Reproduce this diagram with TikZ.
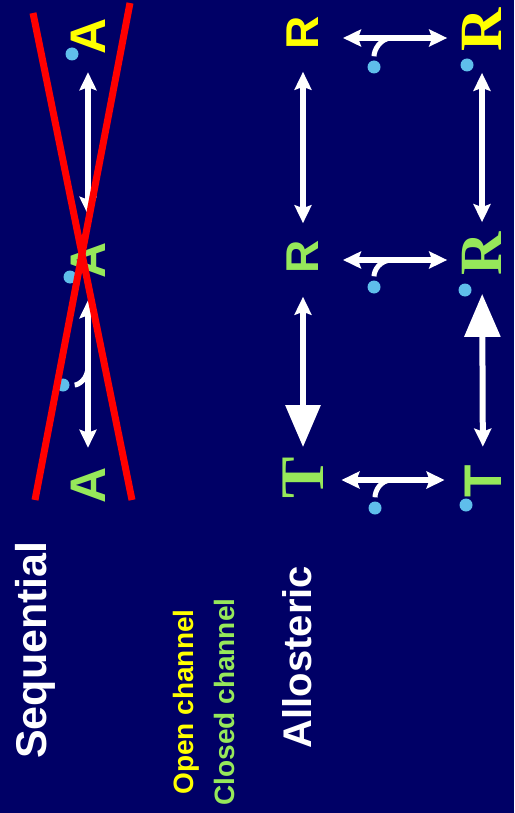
\documentclass[tikz,border=0pt]{standalone}
\usepackage{fontspec}
\setmainfont{Liberation Serif}
\setsansfont{Liberation Sans}
\usetikzlibrary{arrows.meta}

\definecolor{slide}{RGB}{0,0,102}
\definecolor{openc}{RGB}{255,255,0}
\definecolor{closedc}{RGB}{150,232,90}
\definecolor{ligand}{RGB}{95,190,235}
\newcommand\fs[1]{\fontsize{#1}{#1}\selectfont}

\begin{document}
\begin{tikzpicture}[x=1pt,y=-1pt,>={Stealth[length=18pt,width=17pt,inset=3pt]}]
        \tikzstyle{every node}=[inner sep=0pt]
        \tikzstyle{letter}=[rotate=90, font=\bfseries]
        \tikzstyle{label}=[rotate=90, font=\sffamily\bfseries]
        \tikzstyle{lig}=[circle, fill=ligand, minimum size=13pt]
        \tikzstyle{rxn}=[white, line width=6pt, <->]
        \tikzstyle{bigend}=[arrows={Stealth[length=18pt,width=17pt,inset=3pt]-Triangle[length=42pt,width=34pt]}]
        \tikzstyle{bigstart}=[arrows={Triangle[length=43pt,width=35pt]-Stealth[length=18pt,width=17pt,inset=3pt]}]
        \tikzstyle{bind}=[white, line width=5pt]
        \tikzstyle{veto}=[red, line width=7pt]
        \fill[slide] (0,0) rectangle (514,813);
        \useasboundingbox (0,0) rectangle (514,813);

        % sequential scheme
        \node[letter, text=closedc] (sa) at (88,485) {\sffamily\fs{50}A};
        \node[letter, text=closedc] (sb) at (88,260) {\sffamily\fs{50}A};
        \node[letter, text=openc] (sc) at (88,36) {\sffamily\fs{50}A};
        \node[lig] (ls0) at (63,385) {};
        \node[lig] (ls1) at (70,277) {};
        \node[lig] (ls2) at (72,54) {};
        \draw[rxn, shorten <=19pt, shorten >=22pt] (sa) -- (sb);
        \draw[rxn, shorten <=27pt, shorten >=18pt] (sb) -- (sc);
        \coordinate (j0) at (88,366);
        \draw[bind, shorten >=5pt] (j0) .. controls +(0,14) and +(8,0) .. (ls0.east);

        % allosteric scheme
        \node[letter, text=openc] (ro) at (303,33) {\sffamily\fs{46}R};
        \node[letter, text=closedc] (rc) at (303,257) {\sffamily\fs{46}R};
        \node[letter, text=closedc] (tc) at (303,478) {\rmfamily\fs{62}T};
        \node[letter, text=openc] (rob) at (482,30) {\rmfamily\fs{60}R};
        \node[letter, text=closedc] (rcb) at (482,254) {\rmfamily\fs{60}R};
        \node[letter, text=closedc] (tcb) at (483,481) {\sffamily\fs{53}T};
        \node[lig] (l1) at (374,67) {};
        \node[lig] (l2) at (374,287) {};
        \node[lig] (l3) at (375,508) {};
        \node[lig] (m1) at (467,65) {};
        \node[lig] (m2) at (465,290) {};
        \node[lig] (m3) at (466,505) {};

        \draw[rxn, shorten <=22pt, shorten >=17pt] (ro) -- (rc);
        \draw[rxn, bigend, shorten <=23pt, shorten >=10pt] (rc) -- (tc);
        \draw[rxn, shorten <=21pt, shorten >=10pt] (rob) -- (rcb);
        \draw[rxn, bigstart, shorten <=18pt, shorten >=18pt] (rcb) -- (tcb);

        \draw[rxn, shorten <=24pt, shorten >=15pt] ([yshift=-5pt]ro.south) -- ([yshift=-8pt]rob.north);
        \draw[rxn, shorten <=24pt, shorten >=15pt] ([yshift=-3pt]rc.south) -- ([yshift=-6pt]rcb.north);
        \draw[rxn, shorten <=18pt, shorten >=20pt] ([yshift=-2pt]tc.south) -- ([yshift=1pt]tcb.north);
        \coordinate (j1) at (392,38);
        \coordinate (j2) at (392,260);
        \coordinate (j3) at (392,480);
        \draw[bind, shorten >=4pt] (j1) .. controls +(-12,0) and +(0,-10) .. (l1.north);
        \draw[bind, shorten >=4pt] (j2) .. controls +(-12,0) and +(0,-10) .. (l2.north);
        \draw[bind, shorten >=4pt] (j3) .. controls +(-12,0) and +(0,-10) .. (l3.north);

        % captions
        \node[label, white] (seq) at (35,650) {\fs{43}Sequential};
        \node[label, text=openc] (open) at (186,702) {\fs{28}Open channel};
        \node[label, text=closedc] (closed) at (224,702) {\fs{28}Closed channel};
        \node[label, white] (allo) at (297,657) {\fs{40}Allosteric};

        % crossed out
        \draw[veto] (33,13) -- (132,500);
        \draw[veto] (130,3) -- (35,500);
\end{tikzpicture}
\end{document}
